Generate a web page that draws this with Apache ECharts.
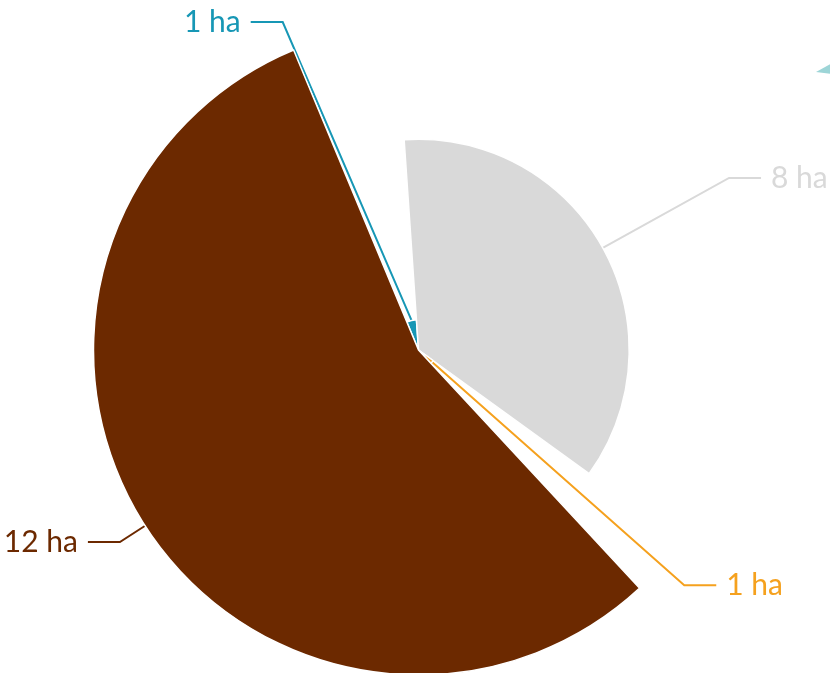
<!DOCTYPE html>
<html>
<head>
<meta charset="utf-8">
<script src="https://cdn.jsdelivr.net/npm/echarts@6/dist/echarts.min.js"></script>
<style>
html,body{margin:0;padding:0;background:#fff;}
#chart{width:830px;height:673px;}
</style>
</head>
<body>
<div id="chart"></div>
<script>
const categories = ['A', 'B', 'C', 'D'];
const values = [1.12, 7.78, 0.67, 12];
const unit = ' ha';
const colors = ['#1797b5', '#d9d9d9', '#f5a11e', '#6c2900'];

const CX = 418.5, CY = 350, R = 325, LINE_LEN = 30, EDGE_PAD = 6;

const chart = echarts.init(document.getElementById('chart'));
const data = categories.map((c, i) => ({
  name: c,
  value: values[i],
  itemStyle: { color: colors[i] },
  label: { color: colors[i] },
  labelLine: { lineStyle: { color: colors[i] } }
}));

// Keep each label line's bend on the circle of radius R + length after labels are shifted vertically
function alignOnCircle(params) {
  const pts = params.labelLinePoints;
  if (!pts || pts.length < 3) return {};
  const rect = params.labelRect;
  const p0 = pts[0].slice(), p1 = pts[1].slice(), p2 = pts[2].slice();
  let y = p1[1];
  if (rect.y < 2) y += EDGE_PAD;
  const rA = R + LINE_LEN;
  const dy = y - CY;
  if (Math.abs(dy) >= rA) return {};
  const dir = p2[0] < p1[0] ? -1 : 1;
  const newX = CX + dir * Math.sqrt(rA * rA - dy * dy);
  const shift = newX - p1[0];
  if (Math.abs(shift) < 0.5 && Math.abs(y - p1[1]) < 0.5) return {};
  return {
    x: (dir < 0 ? rect.x + rect.width : rect.x) + shift,
    y: y,
    align: dir < 0 ? 'right' : 'left',
    verticalAlign: 'middle',
    labelLinePoints: [p0, [newX, y], [p2[0] + shift, y]]
  };
}

chart.setOption({
  animation: false,
  graphic: [{
    type: 'polygon',
    shape: { points: [[816, 72], [832, 63], [832, 74]] },
    style: { fill: '#9dd5d7' }
  }],
  series: [{
    type: 'pie',
    roseType: 'radius',
    center: [CX, CY],
    radius: [0, R],
    startAngle: 112.6,
    clockwise: true,
    avoidLabelOverlap: true,
    itemStyle: { borderColor: '#fff', borderWidth: 1.5 },
    label: {
      show: true,
      position: 'outer',
      fontFamily: 'Lato',
      fontSize: 30,
      overflow: 'none',
      distanceToLabelLine: 10,
      formatter: p => Math.round(p.value) + unit
    },
    labelLine: { show: true, length: LINE_LEN, length2: 32, lineStyle: { width: 2 } },
    labelLayout: alignOnCircle,
    data: data
  }]
});
</script>
</body>
</html>
